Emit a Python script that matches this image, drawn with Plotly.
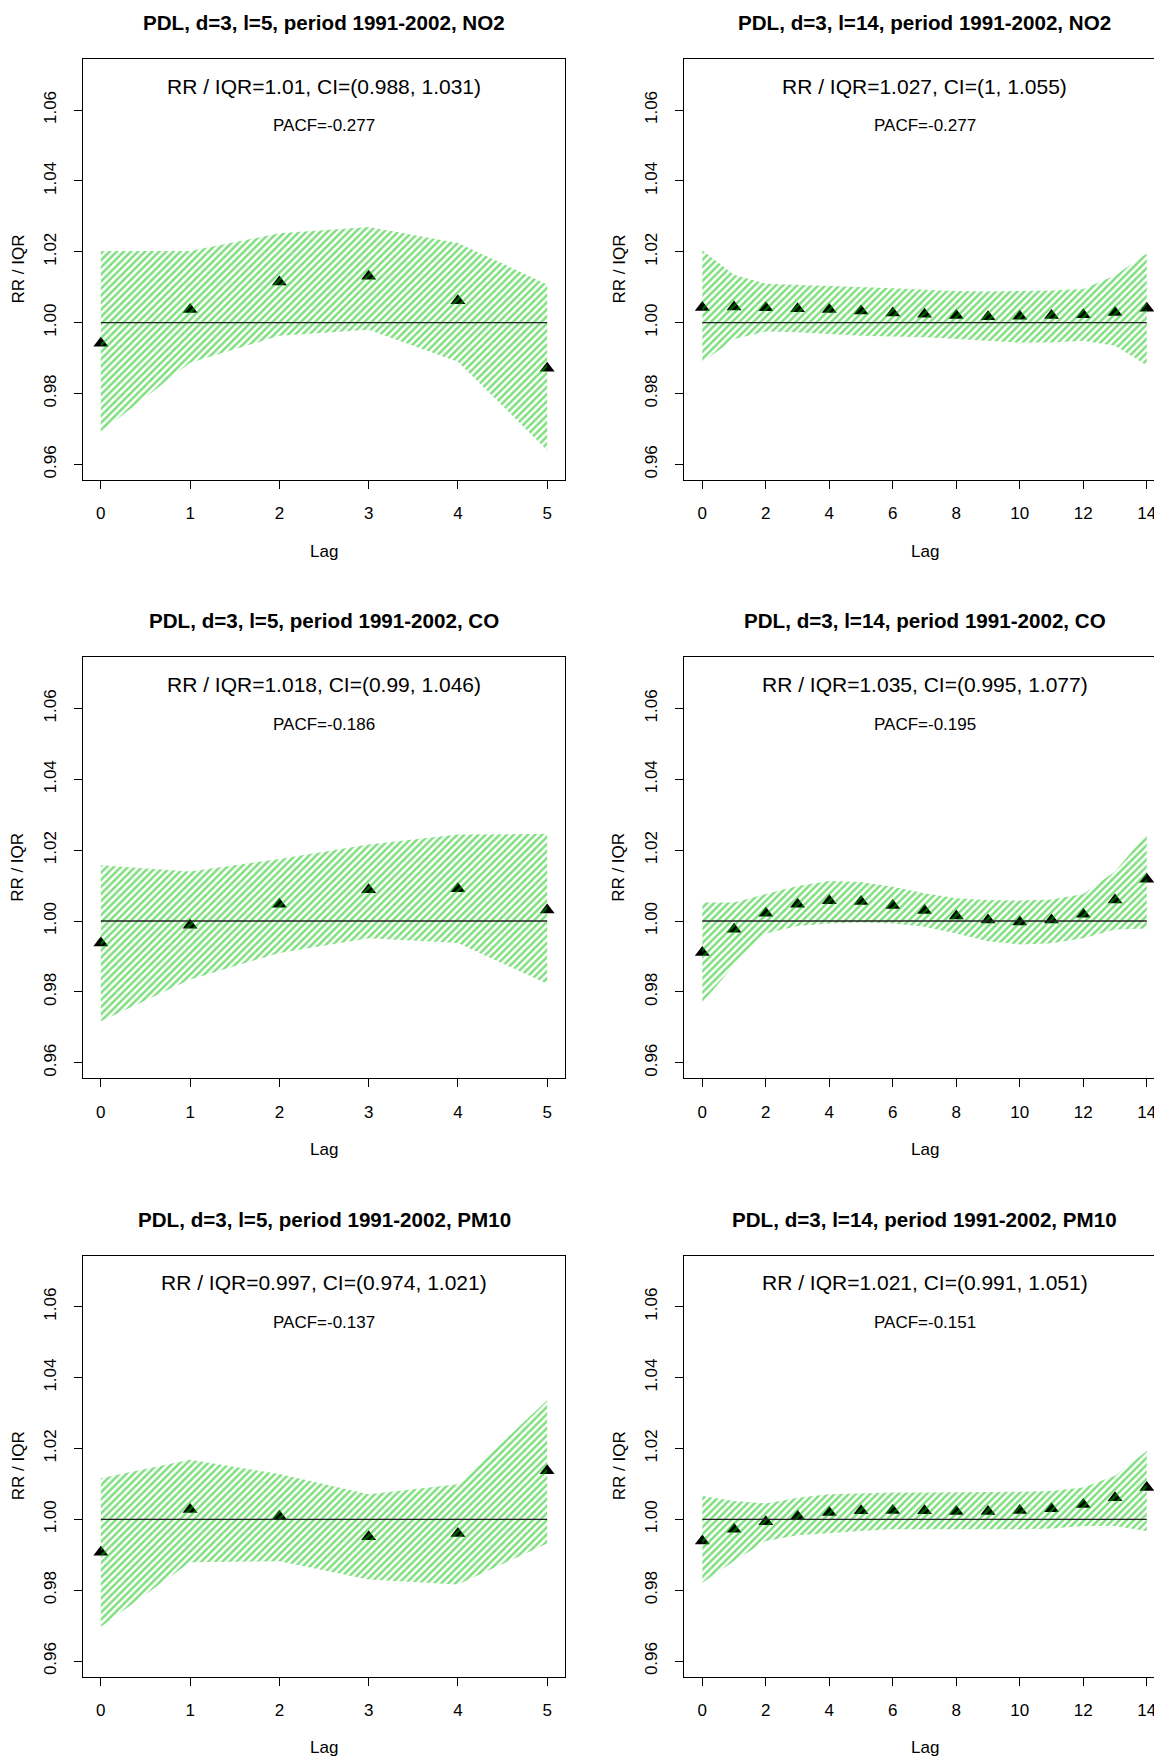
import plotly.graph_objects as go

# ---------------- data ----------------
lags_l5 = [0, 1, 2, 3, 4, 5]
lags_l14 = list(range(15))

no2_l5_est = [0.9942, 1.0037, 1.0115, 1.0131, 1.0062, 0.9871]
no2_l5_lo = [0.9692, 0.9887, 0.9963, 0.9980, 0.9890, 0.9640]
no2_l5_hi = [1.0202, 1.0202, 1.0252, 1.0270, 1.0225, 1.0108]

no2_l14_est = [1.0043, 1.0044, 1.0042, 1.0039, 1.0037, 1.0033, 1.0027, 1.0024,
               1.0020, 1.0017, 1.0018, 1.0020, 1.0022, 1.0029, 1.0041]
no2_l14_lo = [0.9888, 0.9954, 0.9975, 0.9973, 0.9968, 0.9963, 0.9961, 0.9959,
              0.9954, 0.9949, 0.9944, 0.9944, 0.9949, 0.9935, 0.9880]
no2_l14_hi = [1.0204, 1.0135, 1.0110, 1.0107, 1.0105, 1.0102, 1.0097, 1.0093,
              1.0089, 1.0088, 1.0089, 1.0091, 1.0095, 1.0133, 1.0195]

co_l5_est = [0.9938, 0.9988, 1.0047, 1.0088, 1.0091, 1.0031]
co_l5_lo = [0.9717, 0.9835, 0.9910, 0.9951, 0.9938, 0.9823]
co_l5_hi = [1.0157, 1.0140, 1.0175, 1.0216, 1.0244, 1.0246]

co_l14_est = [0.9911, 0.9977, 1.0022, 1.0047, 1.0057, 1.0055, 1.0044, 1.0030,
              1.0014, 1.0003, 0.9997, 1.0003, 1.0019, 1.0059, 1.0118]
co_l14_lo = [0.9769, 0.9875, 0.9965, 0.9986, 0.9993, 0.9996, 0.9993, 0.9984,
             0.9965, 0.9943, 0.9934, 0.9937, 0.9951, 0.9976, 0.9979]
co_l14_hi = [1.0052, 1.0052, 1.0076, 1.0099, 1.0113, 1.0110, 1.0097, 1.0078,
             1.0064, 1.0059, 1.0058, 1.0061, 1.0076, 1.0140, 1.0246]

pm10_l5_est = [0.9907, 1.0028, 1.0009, 0.9951, 0.9960, 1.0137]
pm10_l5_lo = [0.9697, 0.9879, 0.9882, 0.9830, 0.9816, 0.9932]
pm10_l5_hi = [1.0116, 1.0168, 1.0128, 1.0071, 1.0099, 1.0336]

pm10_l14_est = [0.9939, 0.9972, 0.9993, 1.0009, 1.0019, 1.0024, 1.0025, 1.0024,
                1.0022, 1.0022, 1.0025, 1.0030, 1.0042, 1.0061, 1.0090]
pm10_l14_lo = [0.9821, 0.9882, 0.9939, 0.9955, 0.9962, 0.9967, 0.9972, 0.9974,
               0.9972, 0.9972, 0.9972, 0.9974, 0.9981, 0.9981, 0.9967]
pm10_l14_hi = [1.0066, 1.0052, 1.0045, 1.0061, 1.0071, 1.0074, 1.0076, 1.0076,
               1.0076, 1.0076, 1.0078, 1.0080, 1.0090, 1.0123, 1.0193]

titles = [
    "PDL, d=3, l=5, period 1991-2002, NO2", "PDL, d=3, l=14, period 1991-2002, NO2",
    "PDL, d=3, l=5, period 1991-2002, CO", "PDL, d=3, l=14, period 1991-2002, CO",
    "PDL, d=3, l=5, period 1991-2002, PM10", "PDL, d=3, l=14, period 1991-2002, PM10",
]
rr_texts = [
    "RR / IQR=1.01, CI=(0.988, 1.031)", "RR / IQR=1.027, CI=(1, 1.055)",
    "RR / IQR=1.018, CI=(0.99, 1.046)", "RR / IQR=1.035, CI=(0.995, 1.077)",
    "RR / IQR=0.997, CI=(0.974, 1.021)", "RR / IQR=1.021, CI=(0.991, 1.051)",
]
pacf_texts = ["PACF=-0.277", "PACF=-0.277", "PACF=-0.186", "PACF=-0.195",
              "PACF=-0.137", "PACF=-0.151"]

y_ticks = [0.96, 0.98, 1.00, 1.02, 1.04, 1.06]
y_ticktext = ["0.96", "0.98", "1.00", "1.02", "1.04", "1.06"]
x_ticks_l5 = [0, 1, 2, 3, 4, 5]
x_ticks_l14 = [0, 2, 4, 6, 8, 10, 12, 14]
x_label = "Lag"
y_label = "RR / IQR"

panels = [
    (lags_l5, no2_l5_est, no2_l5_lo, no2_l5_hi),
    (lags_l14, no2_l14_est, no2_l14_lo, no2_l14_hi),
    (lags_l5, co_l5_est, co_l5_lo, co_l5_hi),
    (lags_l14, co_l14_est, co_l14_lo, co_l14_hi),
    (lags_l5, pm10_l5_est, pm10_l5_lo, pm10_l5_hi),
    (lags_l14, pm10_l14_est, pm10_l14_lo, pm10_l14_hi),
]

# ---------------- styling / layout ----------------
# The page body has an 8px margin; the figure is sized so that it fills the
# 1162x1760 window exactly, and positions below are given in window pixels.
OFF = 8
W, H = 1162 - OFF, 1760 - OFF


def px_x(px):
    return (px - OFF) / W


def px_y(py):
    return 1 - (py - OFF) / H


FONT = "Liberation Sans, Arial, Helvetica, sans-serif"
GREEN = "#00C000"
box_left = [83, 684]
box_right = [565, 1162]
x_ranges = [[-0.2, 5.2], [-0.577, 14.48]]
row_top0, row_pitch, box_h = 59, 598.35, 421
y_range = [0.9556, 1.0744]

fig = go.Figure()
layout = dict(
    width=W, height=H, margin=dict(l=0, r=0, t=0, b=0),
    paper_bgcolor="white", plot_bgcolor="white", showlegend=False,
    font=dict(family=FONT, size=17, color="black"),
)
annotations = []

for i, (lags, est, lo, hi) in enumerate(panels):
    r, c = divmod(i, 2)
    n = i + 1
    xa = "x" if n == 1 else f"x{n}"
    ya = "y" if n == 1 else f"y{n}"
    top = row_top0 + r * row_pitch
    bot = top + box_h
    L = lags[-1]

    # points
    fig.add_trace(go.Scatter(
        x=lags, y=est, mode="markers", xaxis=xa, yaxis=ya,
        marker=dict(symbol="triangle-up", size=13, color="black", line=dict(width=0)),
        hoverinfo="skip"))
    # hatched confidence band
    fig.add_trace(go.Scatter(
        x=list(lags) + list(lags)[::-1], y=list(hi) + list(lo)[::-1],
        mode="lines", fill="toself", xaxis=xa, yaxis=ya,
        line=dict(width=0, color="rgba(0,0,0,0)"),
        fillcolor="rgba(0,0,0,0)",
        fillpattern=dict(shape="/", fgcolor=GREEN, bgcolor="rgba(0,0,0,0)",
                         fillmode="overlay", size=5, solidity=0.5),
        hoverinfo="skip"))
    # reference line at 1
    fig.add_trace(go.Scatter(
        x=[lags[0], L], y=[1, 1], mode="lines", xaxis=xa, yaxis=ya,
        line=dict(color="#222222", width=1.3), hoverinfo="skip"))

    xkey = "xaxis" if n == 1 else f"xaxis{n}"
    ykey = "yaxis" if n == 1 else f"yaxis{n}"
    layout[xkey] = dict(
        domain=[px_x(box_left[c]), min(1.0, px_x(box_right[c]))], anchor=ya,
        range=x_ranges[c], tickmode="array",
        tickvals=x_ticks_l5 if c == 0 else x_ticks_l14,
        ticks="outside", ticklen=8, tickwidth=1, tickcolor="black",
        showline=True, linecolor="black", linewidth=1, mirror=True,
        showgrid=False, zeroline=False, ticklabelstandoff=10,
        tickfont=dict(size=17, family=FONT, color="black"),
    )
    layout[ykey] = dict(
        domain=[px_y(bot), px_y(top)], anchor=xa,
        range=y_range, tickmode="array", tickvals=y_ticks, ticktext=y_ticktext,
        ticks="outside", ticklen=8, tickwidth=1, tickcolor="black", tickangle=-90,
        showline=True, linecolor="black", linewidth=1, mirror=(c == 0),
        showgrid=False, zeroline=False, ticklabelstandoff=11,
        tickfont=dict(size=17, family=FONT, color="black"),
    )

    cx_px = (box_left[0] + box_right[0]) / 2 if c == 0 else 924.5
    # title
    annotations.append(dict(
        text=f"<b>{titles[i]}</b>", xref="paper", yref="paper",
        x=px_x(cx_px), y=px_y(top - 36.5), xanchor="center", yanchor="middle",
        showarrow=False, font=dict(size=20.6, family=FONT, color="black")))
    # in-plot texts
    annotations.append(dict(
        text=rr_texts[i], xref=xa, yref=ya, x=L / 2, y=1.0667,
        xanchor="center", yanchor="middle", showarrow=False,
        font=dict(size=21, family=FONT, color="black")))
    annotations.append(dict(
        text=pacf_texts[i], xref=xa, yref=ya, x=L / 2, y=1.0555,
        xanchor="center", yanchor="middle", showarrow=False,
        font=dict(size=17, family=FONT, color="black")))
    # axis labels
    annotations.append(dict(
        text=x_label, xref="paper", yref="paper",
        x=px_x(cx_px), y=px_y(bot + 71), xanchor="center", yanchor="middle",
        showarrow=False, font=dict(size=17, family=FONT, color="black")))
    annotations.append(dict(
        text=y_label, xref="paper", yref="paper",
        x=px_x(18 if c == 0 else 619), y=px_y(top + box_h / 2),
        xanchor="center", yanchor="middle", textangle=-90,
        showarrow=False, font=dict(size=17, family=FONT, color="black")))

layout["annotations"] = annotations
fig.update_layout(**layout)
fig.write_html("out.html")
